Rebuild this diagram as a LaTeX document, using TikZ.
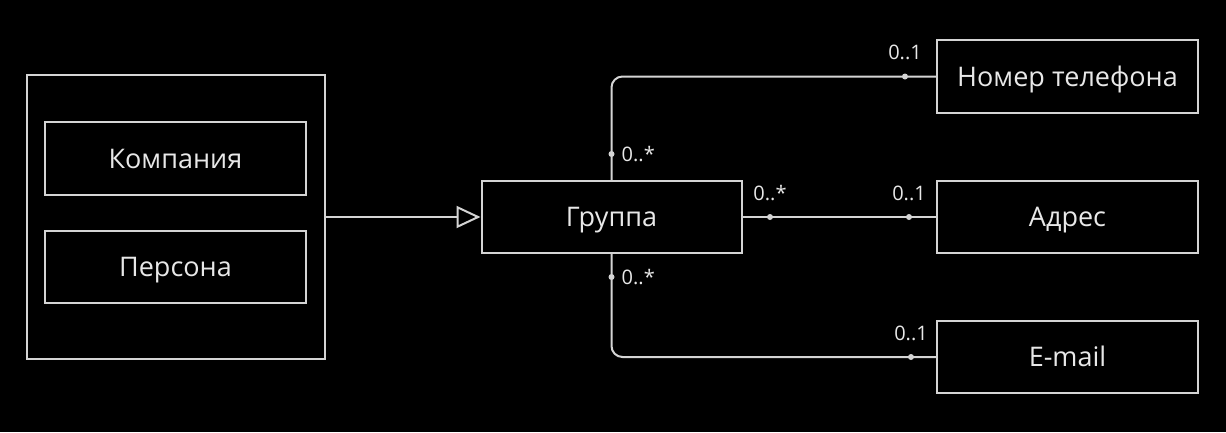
\documentclass[tikz,border=0pt]{standalone}
\usepackage{fontspec}
\setmainfont{Open Sans}
\usepackage{tikz}
\usetikzlibrary{arrows.meta,backgrounds}
\definecolor{umlline}{RGB}{212,212,212}
\definecolor{umltext}{RGB}{232,232,232}
\tikzset{
  umlbox/.style={draw=umlline, line width=2pt, text=umltext, font=\fontsize{27}{32}\selectfont,
    minimum width=261pt, minimum height=73pt, inner sep=0pt, text height=19.3pt, text depth=0pt},
  assoc/.style={draw=umlline, line width=2pt, rounded corners=11pt},
  mult/.style={text=umltext, font=\fontsize{20}{24}\selectfont, inner sep=0pt},
  enddot/.style={fill=umlline}
}
\begin{document}
\begin{tikzpicture}[x=1pt,y=-1pt]
\fill[black] (0,0) rectangle (1226,432);
\useasboundingbox (0,0) rectangle (1226,432);
% Vererbung
\node[umlbox, minimum width=298pt, minimum height=284pt] (sub) at (176,217) {};
\node[umlbox] (kompaniya) at (175.5,158.5) {Компания};
\node[umlbox, minimum height=72pt] (persona) at (175.5,267) {Персона};
\node[umlbox, minimum width=260pt, minimum height=72pt] (gruppa) at (611.5,217) {Группа};
\draw[draw=umlline, line width=2pt, -{Triangle[open, length=24pt, width=22pt]}] (sub.east) -- (gruppa.west);
% Assoziationen
\node[umlbox] (nomer) at (1067.5,76.5) {Номер телефона};
\node[umlbox, minimum height=72pt] (adres) at (1067.5,217) {Адрес};
\node[umlbox, minimum height=72pt] (email) at (1067.5,357) {E-mail};
\draw[assoc] (gruppa.north) |- (nomer.west);
\draw[assoc] (gruppa.east) -- (adres.west);
\draw[assoc] (gruppa.south) |- (email.west);
\coordinate (d1) at (611.5,154);
\coordinate (d2) at (905,76.5);
\coordinate (d3) at (770,217);
\coordinate (d4) at (909,217);
\coordinate (d5) at (611.5,277);
\coordinate (d6) at (911,357);
\foreach \d in {d1,d2,d3,d4,d5,d6}
  \fill[enddot] (\d) circle (3pt);
\node[mult, anchor=west] at ([xshift=10pt]d1) {0..*};
\node[mult] at ([yshift=24pt]d2) {0..1};
\node[mult] at ([yshift=24pt]d3) {0..*};
\node[mult] at ([yshift=24pt]d4) {0..1};
\node[mult, anchor=west] at ([xshift=10pt]d5) {0..*};
\node[mult] at ([yshift=24pt]d6) {0..1};
\end{tikzpicture}
\end{document}
